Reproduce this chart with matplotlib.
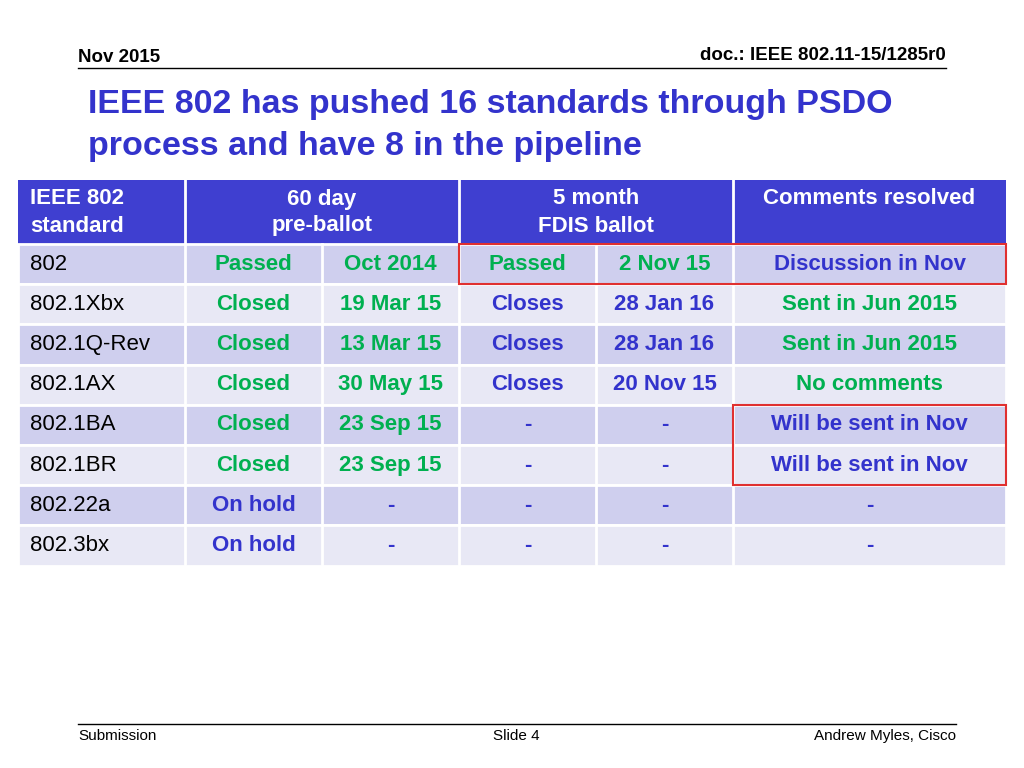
import matplotlib
matplotlib.use("Agg")
import matplotlib.pyplot as plt
from matplotlib.patches import Rectangle

standards = ["802", "802.1Xbx", "802.1Q-Rev", "802.1AX", "802.1BA", "802.1BR", "802.22a", "802.3bx"]
preballot_status = ["Passed", "Closed", "Closed", "Closed", "Closed", "Closed", "On hold", "On hold"]
preballot_date = ["Oct 2014", "19 Mar 15", "13 Mar 15", "30 May 15", "23 Sep 15", "23 Sep 15", "-", "-"]
fdis_status = ["Passed", "Closes", "Closes", "Closes", "-", "-", "-", "-"]
fdis_date = ["2 Nov 15", "28 Jan 16", "28 Jan 16", "20 Nov 15", "-", "-", "-", "-"]
comments = ["Discussion in Nov", "Sent in Jun 2015", "Sent in Jun 2015", "No comments",
            "Will be sent in Nov", "Will be sent in Nov", "-", "-"]

GREEN = "#00B050"
BLUE = "#3333CC"
green_words = {"Passed", "Closed", "Sent in Jun 2015", "No comments", "2 Nov 15"}
FONT = "Liberation Sans"
FS = 16

fig = plt.figure(figsize=(10.24, 7.68), dpi=100)
ax = fig.add_axes([0, 0, 1, 1])
ax.set_xlim(0, 1024); ax.set_ylim(768, 0); ax.axis("off")

ax.text(78, 58, "Nov 2015", fontsize=13.5, fontweight="bold", family=FONT, va="center")
ax.text(946, 56, "doc.: IEEE 802.11-15/1285r0", fontsize=13.5, fontweight="bold", family=FONT, va="center", ha="right")
ax.plot([78, 946], [68, 68], color="black", lw=1)
ax.text(88, 104, "IEEE 802 has pushed 16 standards through PSDO", fontsize=24.5, fontweight="bold",
        family=FONT, color=BLUE, va="center")
ax.text(88, 146, "process and have 8 in the pipeline", fontsize=24.5, fontweight="bold",
        family=FONT, color=BLUE, va="center")
ax.plot([78, 956], [724, 724], color="black", lw=1)
ax.text(78, 736, "Submission", fontsize=11, family=FONT, va="center")
ax.text(516, 736, "Slide 4", fontsize=11, family=FONT, va="center", ha="center")
ax.text(956, 736, "Andrew Myles, Cisco", fontsize=11, family=FONT, va="center", ha="right")

xs = [18, 185, 322, 459, 596, 733, 1006]
hdr_top, hdr_bot = 180, 244
row_h = 40.2

ax.add_patch(Rectangle((xs[0], hdr_top), xs[-1] - xs[0], hdr_bot - hdr_top, color="#3F3FD0", lw=0))
for xv in [xs[1], xs[3], xs[5]]:
    ax.plot([xv, xv], [hdr_top, hdr_bot], color="white", lw=2)
hkw = dict(fontsize=FS, fontweight="bold", family=FONT, color="white", va="center")
ax.text(30, 199, "IEEE 802", **hkw); ax.text(30, 226, "standard", **hkw)
ax.text(322, 199, "60 day", ha="center", **hkw); ax.text(322, 226, "pre-ballot", ha="center", **hkw)
ax.text(596, 199, "5 month", ha="center", **hkw); ax.text(596, 226, "FDIS ballot", ha="center", **hkw)
ax.text(869, 199, "Comments resolved", ha="center", **hkw)

cols = [preballot_status, preballot_date, fdis_status, fdis_date, comments]
for i, std in enumerate(standards):
    top = hdr_bot + i * row_h
    color = "#CFCFEE" if i % 2 == 0 else "#E8E8F5"
    ax.add_patch(Rectangle((xs[0], top), xs[-1] - xs[0], row_h, facecolor=color, edgecolor="white", lw=2))
    for xv in xs[1:-1]:
        ax.plot([xv, xv], [top, top + row_h], color="white", lw=2)
    cy = top + row_h / 2
    ax.text(30, cy, std, fontsize=FS, family=FONT, va="center")
    for j, col in enumerate(cols):
        val = col[i]
        if j == 1:
            c = GREEN if val != "-" else BLUE
        else:
            c = GREEN if val in green_words else BLUE
        ax.text((xs[j + 1] + xs[j + 2]) / 2, cy, val, fontsize=FS, fontweight="bold",
                family=FONT, color=c, va="center", ha="center")

ax.add_patch(Rectangle((xs[3], hdr_bot), xs[-1] - xs[3], row_h, fill=False, edgecolor="#E03030", lw=1.5, zorder=5))
ax.add_patch(Rectangle((xs[5], hdr_bot + 4 * row_h), xs[-1] - xs[5], 2 * row_h, fill=False, edgecolor="#E03030", lw=1.5, zorder=5))

fig.savefig("out.png", dpi=100)
